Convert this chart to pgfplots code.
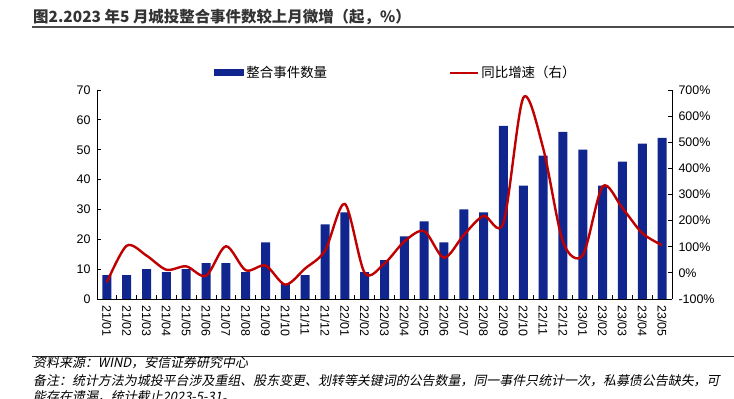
\documentclass[border=0pt]{standalone}
\usepackage{pgfplots}
\usepackage{pgfplotstable}
\pgfplotsset{compat=1.18}
\usepackage{fontspec}
\setmainfont{Liberation Sans}
\newfontfamily\cjk{Noto Sans CJK SC}
\newfontfamily\cjkit[FakeSlant=0.2]{Noto Sans CJK SC}
\definecolor{barblue}{HTML}{10268E}
\definecolor{linered}{HTML}{C00000}
\definecolor{titlegray}{HTML}{333333}
\pgfplotstableread{
x n g
0 8 -36
1 8 104
2 10 66
3 9 12
4 10 25
5 12 -11
6 12 102
7 9 10
8 19 28
9 5 -45
10 8 17
11 25 85
12 29 264
13 9 0
14 13 36
15 21 120
16 26 160
17 19 58
18 30 145
19 29 218
20 58 192
21 38 670
22 48 478
23 56 119
24 50 68
25 38 331
26 46 248
27 52 152
28 54 106
}\data
\begin{document}
\begin{tikzpicture}
\path[use as bounding box] (0bp,0bp) rectangle (734bp,399bp);
% title
\node[anchor=west,inner sep=0,text=titlegray] at (33bp,382bp) {\fontsize{15.5}{18}\selectfont\cjk\bfseries 图2.2023 年5 月城投整合事件数较上月微增（起，\%）};
\draw[line width=2.2bp,color=black!70] (32bp,372bp) -- (734bp,372bp);
% footer
\draw[line width=1bp,color=black!85] (32bp,42bp) -- (734bp,42bp);
\node[anchor=west,inner sep=0] at (33bp,36bp) {\fontsize{13}{15}\selectfont\cjkit 资料来源：WIND，安信证券研究中心};
\node[anchor=west,inner sep=0] at (33bp,18bp) {\fontsize{13}{15}\selectfont\cjkit 备注：统计方法为城投平台涉及重组、股东变更、划转等关键词的公告数量，同一事件只统计一次，私募债公告缺失，可};
\node[anchor=west,inner sep=0] at (33bp,2.5bp) {\fontsize{13}{15}\selectfont\cjkit 能存在遗漏，统计截止2023-5-31。};
\begin{axis}[
  at={(97bp,100bp)}, anchor=south west,
  scale only axis, width=575bp, height=209bp,
  xmin=-0.5, xmax=28.5, ymin=0, ymax=70,
  axis x line*=bottom, axis y line*=left,
  tick align=inside,
  /pgf/number format/assume math mode=true,
  xtick={0,...,28},
  xticklabels={21/01,21/02,21/03,21/04,21/05,21/06,21/07,21/08,21/09,21/10,21/11,21/12,22/01,22/02,22/03,22/04,22/05,22/06,22/07,22/08,22/09,22/10,22/11,22/12,23/01,23/02,23/03,23/04,23/05},
  major x tick style={draw=none},
  minor xtick={-0.5,0.5,...,28.5},
  minor tick length=4bp,
  major tick length=4bp,
  ytick={0,10,...,70},
  tick style={black, line width=0.8bp},
  axis line style={black, line width=0.8bp},
  x tick label style={rotate=-90, anchor=west, font=\fontsize{12.5}{14}\selectfont, xshift=3bp},
  y tick label style={font=\fontsize{12.5}{14}\selectfont},
  yticklabel style={xshift=-3bp},
  legend style={at={(0.52,1.083)}, anchor=center, draw=none, fill=none,
    legend columns=2, font=\fontsize{13.5}{15}\selectfont\cjk,
    /tikz/every even column/.append style={column sep=120bp},
    cells={anchor=west}},
]
\addplot[ybar, bar width=9bp, fill=barblue, draw=none,
  legend image code/.code={\fill[barblue] (0bp,-3.5bp) rectangle (30bp,3.5bp);}]
  table[x=x,y=n]{\data};
\addlegendentry{整合事件数量}
\addlegendimage{linered, line width=2.2bp, legend image code/.code={\draw[linered,line width=2.2bp] (0bp,0bp) -- (28bp,0bp);}}
\addlegendentry{同比增速（右）}
\end{axis}
\begin{axis}[
  at={(97bp,100bp)}, anchor=south west,
  scale only axis, width=575bp, height=209bp,
  xmin=-0.5, xmax=28.5, ymin=-100, ymax=700,
  axis x line=none, axis y line*=right,
  tick align=inside,
  /pgf/number format/assume math mode=true,
  ytick={-100,0,...,700},
  major tick length=4bp,
  tick style={black, line width=0.8bp},
  axis line style={black, line width=0.8bp},
  yticklabel={\pgfmathprintnumber{\tick}\%},
  y tick label style={font=\fontsize{12.5}{14}\selectfont, xshift=3bp},
]
\addplot[linered, line width=2.4bp, smooth, tension=0.5] table[x=x,y=g]{\data};
\end{axis}
\end{tikzpicture}
\end{document}
